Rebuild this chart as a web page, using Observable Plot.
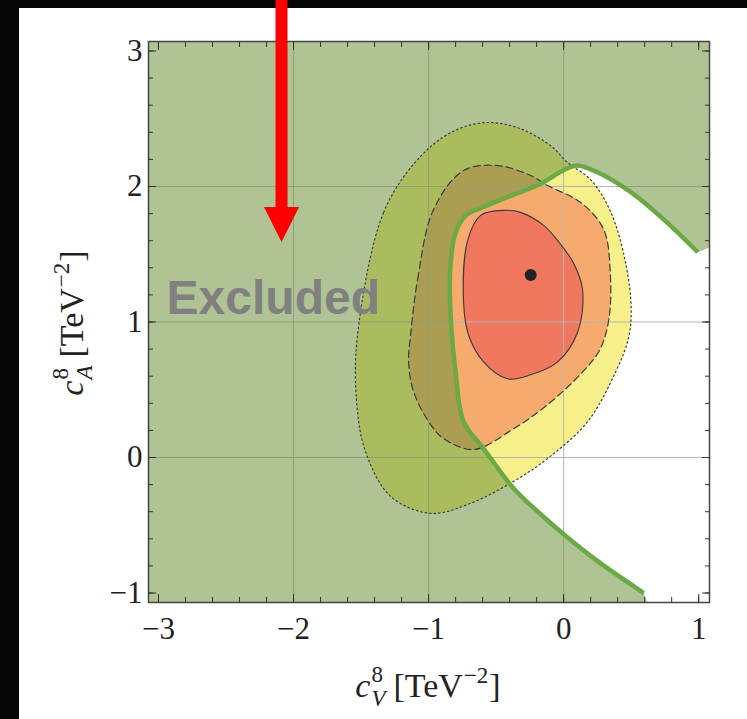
<!DOCTYPE html>
<html><head><meta charset="utf-8">
<script src="https://cdn.jsdelivr.net/npm/d3@7"></script>
<script src="https://cdn.jsdelivr.net/npm/@observablehq/plot@0.6"></script>
<style>
html,body{margin:0;padding:0;background:#fff;width:747px;height:719px;overflow:hidden;position:relative}
#bl{position:absolute;left:0;top:0;width:19px;height:719px;background:#050505}
#bt{position:absolute;left:0;top:0;width:747px;height:8px;background:#050505}
#chart{position:absolute;left:0;top:0}
</style></head><body>
<div id="bl"></div><div id="bt"></div><div id="chart"></div>
<script>
// ---- axes ----
const xDomain = [-3.074, 1.08];
const yDomain = [-1.07, 3.07];
const xMajor = [-3, -2, -1, 0, 1];
const yMajor = [-1, 0, 1, 2, 3];
const xMinor = [-3,-2.8,-2.6,-2.4,-2.2,-2,-1.8,-1.6,-1.4,-1.2,-1,-0.8,-0.6,-0.4,-0.2,0,0.2,0.4,0.6,0.8,1];
const yMinor = [-1,-0.8,-0.6,-0.4,-0.2,0,0.2,0.4,0.6,0.8,1,1.2,1.4,1.6,1.8,2,2.2,2.4,2.6,2.8,3];
const xGrid = [-2, -1, 0];
const yGrid = [0, 1, 2];

// ---- contours (c_V, c_A) ----
const outerX = [-1.526,-1.333,-1.081,-0.837,-0.593,-0.341,-0.096,0.030,0.200,0.350,0.460,0.500,0.480,0.385,0.178,-0.119,-0.370,-0.689,-0.985,-1.281,-1.467,-1.533];
const outerY = [0.904,1.809,2.199,2.397,2.471,2.434,2.301,2.176,2.050,1.809,1.430,1.100,0.880,0.632,0.265,-0.007,-0.176,-0.338,-0.412,-0.287,0.044,0.412];
const midX = [-1.133,-1.081,-0.963,-0.741,-0.489,-0.244,-0.119,0.126,0.296,0.345,0.335,0.270,0.141,-0.119,-0.370,-0.667,-0.889,-0.985,-1.111,-1.148];
const midY = [0.904,1.316,1.831,2.118,2.154,2.081,2.007,1.882,1.684,1.368,1.022,0.800,0.632,0.390,0.213,0.059,0.140,0.243,0.485,0.706];
const innerX = [-0.741,-0.711,-0.615,-0.444,-0.319,-0.148,-0.044,0.070,0.140,0.104,-0.044,-0.244,-0.415,-0.593,-0.704];
const innerY = [1.147,1.600,1.787,1.824,1.809,1.713,1.600,1.440,1.240,0.926,0.706,0.610,0.581,0.706,0.904];

// ---- exclusion boundary (green line), bottom to top ----
const boundX = [0.593,0.252,0.000,-0.170,-0.370,-0.593,-0.741,-0.800,-0.837,-0.840,-0.800,-0.720,-0.615,-0.370,-0.170,0.000,0.100,0.250,0.500,0.740,0.993];
const boundY = [-1.000,-0.765,-0.566,-0.419,-0.228,0.066,0.265,0.632,1.051,1.390,1.660,1.790,1.840,1.940,2.020,2.120,2.155,2.105,1.956,1.757,1.515];

// ---- best fit point ----
const bestX = [-0.244];
const bestY = [1.346];

// ---- annotation ----
const excludedLabel = {text: "Excluded", x: -2.15, y: 1.17};
const arrow = {x: -2.089, yTop: 3.38, yTip: 1.59, halfWidth: 0.13, headLength: 0.258};

const pts = (xs, ys) => xs.map((x, i) => ({x, y: ys[i]}));
const outer = pts(outerX, outerY);
const mid = pts(midX, midY);
const inner = pts(innerX, innerY);
const bound = pts(boundX, boundY);
const excluded = [
  {x: xDomain[0], y: yDomain[1]},
  {x: xDomain[1], y: yDomain[1]},
  {x: xDomain[1], y: 1.55},
  ...bound.slice().reverse(),
  {x: 0.62, y: yDomain[0]},
  {x: xDomain[0], y: yDomain[0]}
];
const head = [
  {x: arrow.x - arrow.halfWidth, y: arrow.yTip + arrow.headLength},
  {x: arrow.x + arrow.halfWidth, y: arrow.yTip + arrow.headLength},
  {x: arrow.x, y: arrow.yTip}
];

const fmt = d3.format("d");
const tickColor = "#333";
const plot = Plot.plot({
  width: 747, height: 719,
  marginLeft: 148, marginRight: 38, marginTop: 41, marginBottom: 117,
  x: {domain: xDomain},
  y: {domain: yDomain},
  style: {fontFamily: "'Liberation Serif', serif", fontSize: "31px", background: "transparent", overflow: "visible", color: "#222"},
  marks: [
    Plot.line(outer, {x: "x", y: "y", curve: "catmull-rom-closed", fill: "#f7f08a", stroke: "none"}),
    Plot.line(mid, {x: "x", y: "y", curve: "catmull-rom-closed", fill: "#f6aa6e", stroke: "none"}),
    Plot.line(inner, {x: "x", y: "y", curve: "catmull-rom-closed", fill: "#f0785f", stroke: "none"}),
    Plot.gridX(xGrid, {stroke: "#b4b4b4", strokeOpacity: 1, strokeWidth: 1}),
    Plot.gridY(yGrid, {stroke: "#b4b4b4", strokeOpacity: 1, strokeWidth: 1}),
    Plot.line(excluded, {x: "x", y: "y", curve: "linear-closed", fill: "#6e913c", fillOpacity: 0.55, stroke: "none"}),
    Plot.line(outer, {x: "x", y: "y", curve: "catmull-rom-closed", fill: "none", stroke: "#3a3a3a", strokeWidth: 1.2, strokeDasharray: "1.5,3"}),
    Plot.line(mid, {x: "x", y: "y", curve: "catmull-rom-closed", fill: "none", stroke: "#3a3a3a", strokeWidth: 1.2, strokeDasharray: "7,4"}),
    Plot.line(inner, {x: "x", y: "y", curve: "catmull-rom-closed", fill: "none", stroke: "#3a3a3a", strokeWidth: 1.1}),
    Plot.line(bound, {x: "x", y: "y", curve: "catmull-rom", stroke: "#6aa944", strokeWidth: 4.5, strokeLinecap: "butt"}),
    Plot.dot(pts(bestX, bestY), {x: "x", y: "y", r: 6, fill: "#222", stroke: "none"}),
    Plot.frame({stroke: "#444", strokeWidth: 1.5}),
    // major ticks (inward) on all sides
    Plot.axisX(xMajor, {anchor: "bottom", tickSize: -8, fill: "none", stroke: tickColor, label: null}),
    Plot.axisX(xMajor, {anchor: "top", tickSize: -8, fill: "none", stroke: tickColor, label: null}),
    Plot.axisY(yMajor, {anchor: "left", tickSize: -8, fill: "none", stroke: tickColor, label: null}),
    Plot.axisY(yMajor, {anchor: "right", tickSize: -8, fill: "none", stroke: tickColor, label: null}),
    // minor ticks
    Plot.axisX(xMinor, {anchor: "bottom", tickSize: -5, fill: "none", stroke: tickColor, label: null}),
    Plot.axisX(xMinor, {anchor: "top", tickSize: -5, fill: "none", stroke: tickColor, label: null}),
    Plot.axisY(yMinor, {anchor: "left", tickSize: -5, fill: "none", stroke: tickColor, label: null}),
    Plot.axisY(yMinor, {anchor: "right", tickSize: -5, fill: "none", stroke: tickColor, label: null}),
    // tick labels
    Plot.axisX(xMajor, {anchor: "bottom", tickSize: 0, tickPadding: 14, tickFormat: fmt, stroke: "none", fill: "#222", label: null}),
    Plot.axisY(yMajor, {anchor: "left", tickSize: 0, tickPadding: 6, tickFormat: fmt, stroke: "none", fill: "#222", label: null}),
    // annotations
    Plot.text([excludedLabel], {x: "x", y: "y", text: "text", fontFamily: "'Liberation Sans', Arial, sans-serif", fontWeight: "bold", fontSize: 48, fill: "#808080", textAnchor: "middle", lineAnchor: "middle"}),
    Plot.ruleX([arrow], {x: "x", y1: "yTop", y2: arrow.yTip + arrow.headLength - 0.01, stroke: "#ff0000", strokeWidth: 12}),
    Plot.line(head, {x: "x", y: "y", curve: "linear-closed", fill: "#ff0000", stroke: "none"})
  ]
});
document.getElementById("chart").appendChild(plot);

// axis labels with sub/superscripts
const svg = d3.select(plot);
function mathLabel(transform, parts) {
  const g = svg.append("g").attr("transform", transform)
    .attr("font-family", "'Liberation Serif', serif").attr("fill", "#222")
    .attr("text-anchor", "start");
  const inner = g.append("g");
  let x = 0;
  for (const p of parts) {
    if (p.stack) {
      let w = 0;
      for (const s of p.stack) {
        const t = inner.append("text").attr("x", x).attr("y", s.dy).attr("font-size", s.size)
          .attr("text-anchor", "start")
          .attr("font-style", s.italic ? "italic" : "normal").text(s.t);
        w = Math.max(w, t.node().getComputedTextLength());
      }
      x += w + (p.after || 0);
    } else {
      const t = inner.append("text").attr("x", x).attr("y", p.dy || 0).attr("font-size", p.size)
        .attr("text-anchor", "start")
        .attr("font-style", p.italic ? "italic" : "normal").text(p.t);
      x += t.node().getComputedTextLength() + (p.after || 0);
    }
  }
  inner.attr("transform", `translate(${-x / 2},0)`);
}
const labelParts = (sub) => [
  {t: "c", italic: true, size: 34, after: 1},
  {stack: [{t: "8", size: 23, dy: -15}, {t: sub, size: 23, dy: 9, italic: true}], after: 8},
  {t: "[TeV", size: 34, after: 1},
  {t: "\u22122", size: 23, dy: -14, after: 1},
  {t: "]", size: 34}
];
mathLabel("translate(428,697)", labelParts("V"));
mathLabel("translate(83,323) rotate(-90)", labelParts("A"));
</script>
</body></html>
